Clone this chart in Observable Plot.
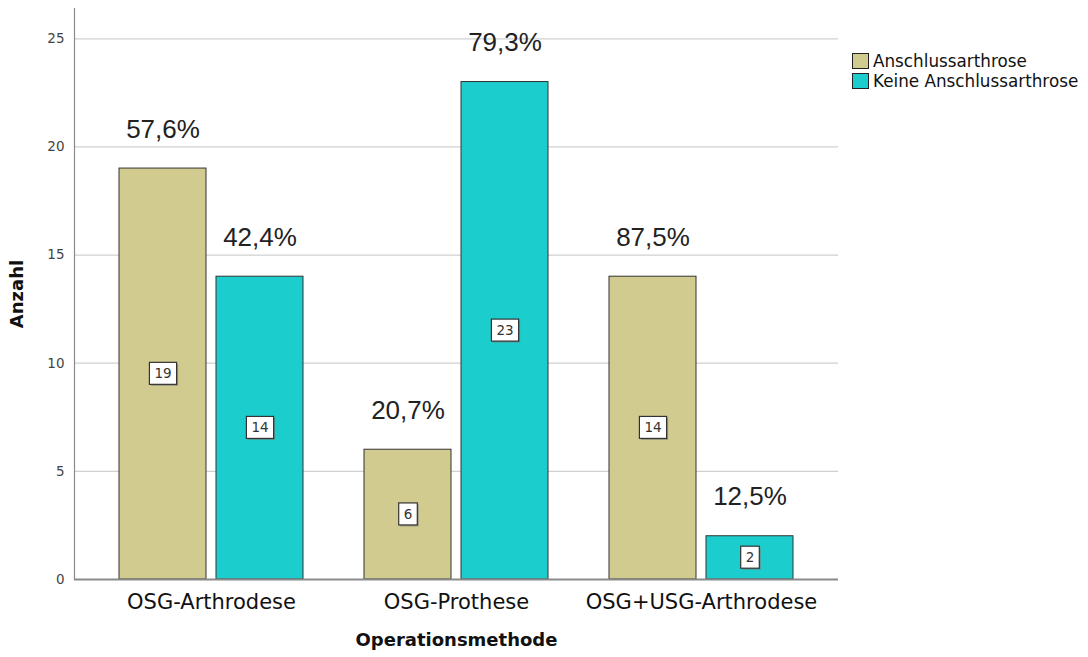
<!DOCTYPE html>
<html>
<head>
<meta charset="utf-8">
<script src="https://cdn.jsdelivr.net/npm/d3@7"></script>
<script src="https://cdn.jsdelivr.net/npm/@observablehq/plot@0.6"></script>
<style>
  html, body { margin: 0; padding: 0; background: #fff; }
  #wrap { position: relative; width: 1088px; height: 657px; }
  #legend { position: absolute; left: 852px; top: 51px; font-family: "DejaVu Sans", sans-serif; font-size: 16.8px; color: #111; line-height: 20px; }
  #legend .item { display: flex; align-items: center; height: 20px; }
  #legend .sw { width: 15px; height: 14px; border: 1px solid #222; margin-right: 4px; }
</style>
</head>
<body>
<div id="wrap"><div id="legend"></div></div>
<script>
const groups = ["OSG-Arthrodese", "OSG-Prothese", "OSG+USG-Arthrodese"];
const series = ["Anschlussarthrose", "Keine Anschlussarthrose"];
const anschluss = [19, 6, 14];
const keine = [14, 23, 2];
const pctAnschluss = ["57,6%", "20,7%", "87,5%"];
const pctKeine = ["42,4%", "79,3%", "12,5%"];
const yTicks = [0, 5, 10, 15, 20, 25];
const colors = ["#d1cb8f", "#1ccdcd"];

const rowsA = groups.map((g, i) => ({group: g, series: series[0], value: anschluss[i], pct: pctAnschluss[i]}));
const rowsK = groups.map((g, i) => ({group: g, series: series[1], value: keine[i], pct: pctKeine[i]}));

const W = 1088, H = 657;
const BAR_OFF = 48.5;

const chart = Plot.plot({
  width: W, height: H,
  marginLeft: 74, marginRight: 250, marginTop: 8, marginBottom: 78,
  style: {fontFamily: "DejaVu Sans, sans-serif", background: "#fff"},
  x: {domain: groups, paddingInner: 0.2505, paddingOuter: 0.181, label: null},
  y: {domain: [0, 26.4], label: null},
  color: {domain: series, range: colors},
  marks: [
    Plot.gridY(yTicks.filter(d => d > 0), {stroke: "#d0d0d0", strokeOpacity: 1, strokeWidth: 1.2}),
    Plot.barY(rowsA, {x: "group", y: "value", fill: "series", stroke: "#333", strokeWidth: 1, insetRight: 97}),
    Plot.barY(rowsK, {x: "group", y: "value", fill: "series", stroke: "#333", strokeWidth: 1, insetLeft: 97}),
    Plot.frame({anchor: "left", stroke: "#8a8a8a", strokeWidth: 1.2}),
    Plot.ruleY([0], {stroke: "#8a8a8a", strokeWidth: 2}),
    Plot.axisY({ticks: yTicks, tickSize: 0, tickPadding: 10, fontSize: 13.5, color: "#444",
      label: "Anzahl", labelAnchor: "center", labelArrow: "none", labelOffset: 64}),
    Plot.axisX({tickSize: 0, tickPadding: 15, fontSize: 21, color: "#111",
      label: "Operationsmethode", labelAnchor: "center", labelArrow: "none", labelOffset: 66}),
    Plot.text(rowsA, {x: "group", y: "value", text: "pct", dx: -BAR_OFF, dy: -31, lineAnchor: "bottom",
      fontSize: 26, fill: "#222", fontFamily: "Liberation Sans, Arial, sans-serif"}),
    Plot.text(rowsK, {x: "group", y: "value", text: "pct", dx: BAR_OFF, dy: -31, lineAnchor: "bottom",
      fontSize: 26, fill: "#222", fontFamily: "Liberation Sans, Arial, sans-serif"}),
    Plot.text(rowsA, {x: "group", y: d => d.value / 2, text: d => String(d.value), dx: -BAR_OFF,
      fontSize: 13.5, fill: "#333", ariaDescription: "count-label"}),
    Plot.text(rowsK, {x: "group", y: d => d.value / 2, text: d => String(d.value), dx: BAR_OFF,
      fontSize: 13.5, fill: "#333", ariaDescription: "count-label"})
  ]
});

const wrap = document.getElementById("wrap");
wrap.insertBefore(chart, wrap.firstChild);

// style axis labels bold
d3.select(chart).selectAll('g[aria-label="y-axis label"] text, g[aria-label="x-axis label"] text')
  .attr("font-weight", "bold").attr("font-size", 18).attr("fill", "#111");

// boxes behind the count labels
d3.select(chart).selectAll('g[aria-description="count-label"] text').each(function() {
  const b = this.getBBox();
  const px = 5, py = 3;
  const parent = this.parentNode;
  const t = this.getAttribute("transform");
  const sh = document.createElementNS("http://www.w3.org/2000/svg", "rect");
  sh.setAttribute("x", b.x - px + 1.5); sh.setAttribute("y", b.y - py + 1.5);
  sh.setAttribute("width", b.width + 2 * px); sh.setAttribute("height", b.height + 2 * py);
  sh.setAttribute("fill", "#777"); sh.setAttribute("fill-opacity", "0.6");
  if (t) sh.setAttribute("transform", t);
  const r = document.createElementNS("http://www.w3.org/2000/svg", "rect");
  r.setAttribute("x", b.x - px); r.setAttribute("y", b.y - py);
  r.setAttribute("width", b.width + 2 * px); r.setAttribute("height", b.height + 2 * py);
  r.setAttribute("fill", "#fff"); r.setAttribute("stroke", "#333"); r.setAttribute("stroke-width", 1.2);
  if (t) r.setAttribute("transform", t);
  parent.insertBefore(sh, this);
  parent.insertBefore(r, this);
});

// legend
const legend = document.getElementById("legend");
series.forEach((s, i) => {
  const item = document.createElement("div");
  item.className = "item";
  const sw = document.createElement("div");
  sw.className = "sw";
  sw.style.background = colors[i];
  const lab = document.createElement("span");
  lab.textContent = s;
  item.appendChild(sw); item.appendChild(lab);
  legend.appendChild(item);
});
</script>
</body>
</html>
